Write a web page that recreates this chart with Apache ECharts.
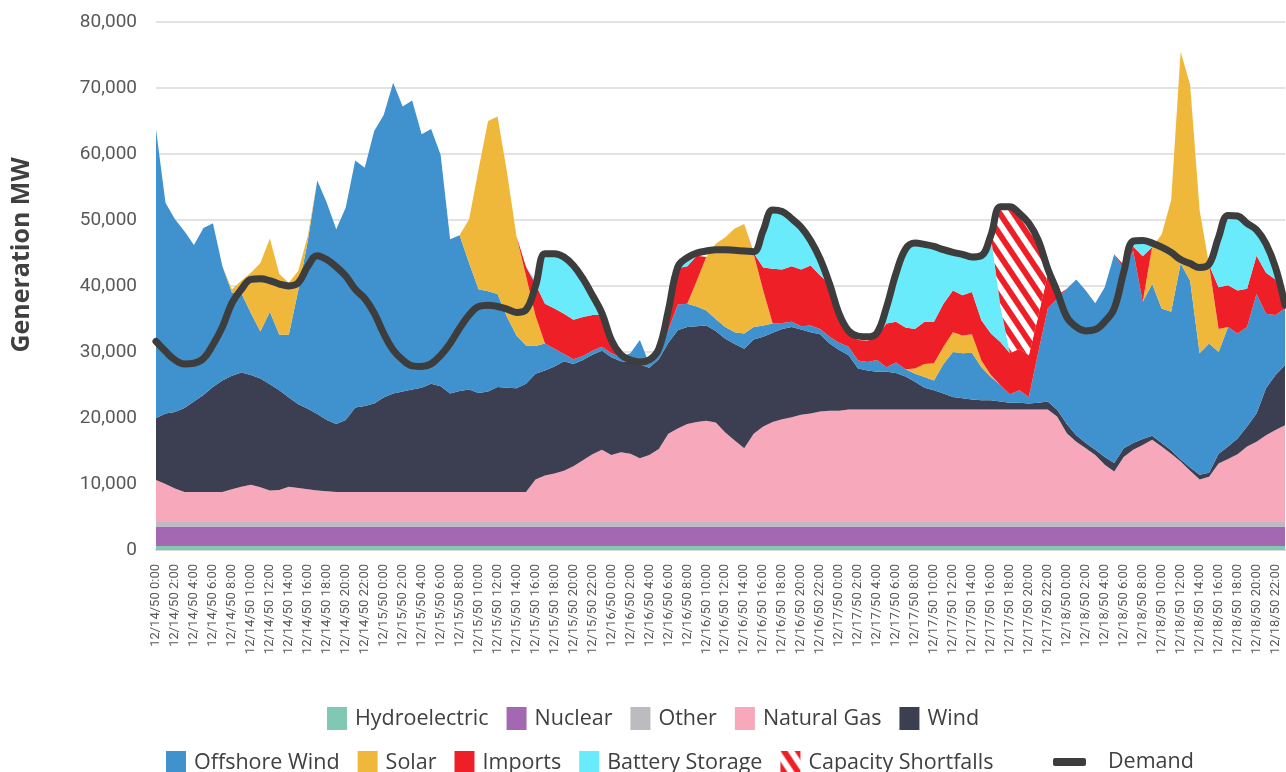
<!DOCTYPE html>
<html>
<head>
<meta charset="utf-8">
<script src="https://cdn.jsdelivr.net/npm/echarts@6/dist/echarts.min.js"></script>
<style>
  html, body { margin: 0; padding: 0; background: #fff; }
  #chart { width: 1286px; height: 772px; }
</style>
</head>
<body>
<div id="chart"></div>
<script>
// ===== data (MW), hourly 12/14/50 0:00 -> 12/18/50 23:00 =====
const days = ['12/14/50', '12/15/50', '12/16/50', '12/17/50', '12/18/50']
const categories = []
days.forEach(d => { for (let h = 0; h < 24; h++) categories.push(`${d} ${h}:00`) })

const hydro = [
  600,600,600,600,600,600,600,600,600,600, 600,600,600,600,600,600,600,600,600,600,
  600,600,600,600,600,600,600,600,600,600, 600,600,600,600,600,600,600,600,600,600,
  600,600,600,600,600,600,600,600,600,600, 600,600,600,600,600,600,600,600,600,600,
  600,600,600,600,600,600,600,600,600,600, 600,600,600,600,600,600,600,600,600,600,
  600,600,600,600,600,600,600,600,600,600, 600,600,600,600,600,600,600,600,600,600,
  600,600,600,600,600,600,600,600,600,600, 600,600,600,600,600,600,600,600,600,600
]
const nuclear = [
  2950,2950,2950,2950,2950,2950,2950,2950,2950,2950, 2950,2950,2950,2950,2950,2950,2950,2950,2950,2950,
  2950,2950,2950,2950,2950,2950,2950,2950,2950,2950, 2950,2950,2950,2950,2950,2950,2950,2950,2950,2950,
  2950,2950,2950,2950,2950,2950,2950,2950,2950,2950, 2950,2950,2950,2950,2950,2950,2950,2950,2950,2950,
  2950,2950,2950,2950,2950,2950,2950,2950,2950,2950, 2950,2950,2950,2950,2950,2950,2950,2950,2950,2950,
  2950,2950,2950,2950,2950,2950,2950,2950,2950,2950, 2950,2950,2950,2950,2950,2950,2950,2950,2950,2950,
  2950,2950,2950,2950,2950,2950,2950,2950,2950,2950, 2950,2950,2950,2950,2950,2950,2950,2950,2950,2950
]
const other = [
  700,700,700,700,700,700,700,700,700,700, 700,700,700,700,700,700,700,700,700,700,
  700,700,700,700,700,700,700,700,700,700, 700,700,700,700,700,700,700,700,700,700,
  700,700,700,700,700,700,700,700,700,700, 700,700,700,700,700,700,700,700,700,700,
  700,700,700,700,700,700,700,700,700,700, 700,700,700,700,700,700,700,700,700,700,
  700,700,700,700,700,700,700,700,700,700, 700,700,700,700,700,700,700,700,700,700,
  700,700,700,700,700,700,700,700,700,700, 700,700,700,700,700,700,700,700,700,700
]
const naturalGas = [
  6350,5750,5050,4550,4550,4550,4550,4550,4950,5350,
  5650,5250,4750,4850,5350,5150,4950,4750,4650,4550,
  4550,4550,4550,4550,4550,4550,4550,4550,4550,4550,
  4550,4550,4550,4550,4550,4550,4550,4550,4550,4550,
  6450,7050,7350,7750,8450,9350,10250,10950,10150,10550,
  10350,9650,10150,11050,13350,14150,14850,15150,15350,15050,
  13550,12350,11150,13350,14450,15150,15550,15850,16250,16450,
  16750,16850,16850,17050,17050,17050,17050,17050,17050,17050,
  17050,17050,17050,17050,17050,17050,17050,17050,17050,17050,
  17050,17050,17050,17050,17050,15950,13450,12150,11150,10150,
  8650,7650,9850,10950,11650,12450,11450,10350,9150,7750,
  6450,6850,8850,9550,10250,11450,12150,13150,13950,14650
]
const wind = [
  9350,10700,11600,12700,13700,14700,15900,16900,17200,17300,
  16600,16500,16100,15100,13500,12700,12200,11600,10800,10300,
  10900,12800,13000,13400,14300,14900,15200,15500,15800,16400,
  16000,14900,15300,15500,15000,15200,15900,15800,15700,16400,
  16000,15900,16200,16600,15500,15200,15100,15000,14800,13800,
  13900,14200,13200,13600,13800,14900,14700,14500,14400,13900,
  14200,14600,15100,14300,13600,13500,13700,13700,12900,12300,
  11700,10200,9200,8200,6200,5900,5700,5700,5500,5000,
  4200,3300,2900,2400,1900,1700,1500,1400,1400,1200,
  1000,1000,900,1000,1200,1000,1400,1000,800,800,
  1200,1300,1300,1000,900,600,500,500,300,500,
  700,600,1500,1900,2400,3000,4300,7100,8300,9100
]
const offshoreWind = [
  43750,31900,29200,26800,23700,25300,24800,17300,12600,12000,
  9400,7100,11000,8400,9500,17300,25400,35400,32900,29500,
  32200,37400,36100,41300,42800,47100,43200,43800,38400,38600,
  35100,23400,23600,19200,15700,15200,14100,10700,8000,5800,
  4200,4100,2700,1100,700,600,600,600,600,600,
  1300,3700,600,1400,1900,3900,3500,3000,2300,1800,
  1800,1800,2300,1900,1700,1400,900,800,500,1000,
  800,1000,1100,1300,1200,1300,1800,700,1600,1100,
  1200,1600,1500,4500,6800,6800,7100,5000,3500,2500,
  1300,1900,1000,7700,14100,16900,20500,23600,23100,22200,
  25700,31600,27200,29100,20800,23000,20400,21000,29700,28300,
  18400,19600,15400,18100,15900,15100,18100,11300,9100,8600
]
const solar = [
  0,0,0,0,0,0,0,0,500,1900,
  6100,10400,11100,9200,7900,2900,800,0,0,0,
  0,0,0,0,0,0,0,0,0,0,
  0,0,0,6600,18200,25800,26900,21900,15000,10500,
  4600,0,0,0,0,0,0,0,0,0,
  0,0,0,0,0,0,0,3900,8100,11400,
  13600,15700,16600,11000,5300,0,0,0,0,0,
  0,0,0,0,0,0,0,0,0,0,
  800,2000,2600,2600,3000,2700,2800,1000,300,0,
  0,0,0,0,0,0,0,0,0,0,
  0,0,0,0,0,5600,11200,16900,32100,29700,
  21700,11900,3500,0,0,0,0,0,0,0
]
const imports = [
  0,0,0,0,0,0,0,0,0,0,
  0,0,0,0,0,0,0,0,0,0,
  0,0,0,0,0,0,0,0,0,0,
  0,0,0,0,0,0,0,0,0,1400,
  4800,6000,6100,6100,6000,5900,5400,4800,2000,0,
  0,0,0,0,2200,5500,5700,3800,0,0,
  0,0,0,200,3500,8300,8100,8400,8600,9100,
  8100,8000,4400,2000,3100,3200,3500,6600,6200,6300,
  6000,6400,6300,6500,6300,6100,6400,6100,6300,6500,
  6200,6300,6300,5500,5200,500,0,0,0,0,
  0,0,600,700,6900,0,0,0,0,0,
  0,0,6300,6300,6500,5800,5800,6200,5400,500
]
const batteryStorage = [
  0,0,0,0,0,0,0,0,0,0,
  0,0,0,0,0,0,0,0,0,0,
  0,0,0,0,0,0,0,0,0,0,
  0,0,0,0,0,0,0,0,0,0,
  500,7500,8300,8600,8200,5800,2900,0,0,0,
  0,0,0,0,0,200,1300,0,0,0,
  0,0,0,0,5600,8900,8800,7200,6400,3800,
  2500,0,0,0,0,0,0,2300,7300,11900,
  13000,11700,11400,8200,5800,6200,5300,9800,14700,5500,
  0,0,0,0,0,0,0,0,0,0,
  0,0,0,600,2400,0,0,0,0,0,
  0,0,7600,10600,11300,9900,3900,4400,1800,0
]
const capacityShortfalls = [
  0,0,0,0,0,0,0,0,0,0,
  0,0,0,0,0,0,0,0,0,0,
  0,0,0,0,0,0,0,0,0,0,
  0,0,0,0,0,0,0,0,0,0,
  0,0,0,0,0,0,0,0,0,0,
  0,0,0,0,0,0,0,0,0,0,
  0,0,0,0,0,0,0,0,0,0,
  0,0,0,0,0,0,0,0,0,0,
  0,0,0,0,0,0,0,0,0,15000,
  22200,20400,20000,10500,0,0,0,0,0,0,
  0,0,0,0,0,0,0,0,0,0,
  0,0,0,0,0,0,0,0,0,0
]
const demand = [
  31600,30100,28800,28200,28300,29000,31100,33800,37400,39500,
  41000,41100,40800,40300,40000,40500,43000,44600,44000,42900,
  41500,39500,38100,35900,32800,30300,28800,27900,27800,28200,
  29500,31300,33600,35600,36900,37100,36900,36500,36000,36400,
  40000,44900,44900,44400,43100,41100,38600,35900,31800,29600,
  28800,28500,28800,30500,36300,42900,44300,45000,45300,45500,
  45500,45400,45300,45200,48400,51500,51300,50200,48900,46900,
  44100,40300,35800,33200,32400,32300,32900,36800,41900,45600,
  46500,46300,46000,45500,45100,44800,44400,44600,47700,52000,
  52000,51000,49500,46900,42600,39100,35300,33800,33200,33400,
  34600,36600,42100,46800,46900,46500,45900,45100,44000,43400,
  42800,43300,47400,50700,50600,49500,48500,46400,42800,37100
]

// red / white diagonal stripes for shortfalls
const makeHatch = () => {
    const w = 14, h = 21
    const c = document.createElement('canvas')
    c.width = w; c.height = h
    const ctx = c.getContext('2d')
    ctx.fillStyle = '#ffffff'
    ctx.fillRect(0, 0, w, h)
    ctx.fillStyle = '#ee1f26'
    for (const s of [-w, 0, w]) {
        ctx.beginPath()
        ctx.moveTo(s, 0); ctx.lineTo(s + 7, 0); ctx.lineTo(s + 7 + w, h); ctx.lineTo(s + w, h)
        ctx.closePath(); ctx.fill()
    }
    return c
}
const hatch = { image: makeHatch(), repeat: 'repeat' }

const FONT = "Roboto, 'Noto Sans', sans-serif"
const LEGEND_FONT = "'Open Sans', Roboto, sans-serif"

const stacked = [
    ['Hydroelectric', hydro, '#80c8b4'],
    ['Nuclear', nuclear, '#a468b3'],
    ['Other', other, '#bcbcc0'],
    ['Natural Gas', naturalGas, '#f7a9bb'],
    ['Wind', wind, '#3c3e52'],
    ['Offshore Wind', offshoreWind, '#3f92cd'],
    ['Solar', solar, '#efb83b'],
    ['Imports', imports, '#ee1f26'],
    ['Battery Storage', batteryStorage, '#6aebfc'],
    ['Capacity Shortfalls', capacityShortfalls, hatch]
].map(([name, data, color]) => ({
    name,
    type: 'line',
    stack: 'gen',
    data,
    symbol: 'none',
    lineStyle: { width: 0 },
    itemStyle: { color },
    areaStyle: { color, opacity: 1 },
    z: 2
}))

const legendBase = {
    icon: 'rect',
    padding: 0,
    itemWidth: 20,
    itemHeight: 23,
    itemGap: 18,
    itemStyle: { borderWidth: 0 },
    textStyle: { fontFamily: LEGEND_FONT, fontSize: 21.5, color: '#404040', padding: [0, 0, 0, 3] }
}

const chart = echarts.init(document.getElementById('chart'), null, { renderer: 'canvas' })
chart.setOption({
    animation: false,
    textStyle: { fontFamily: FONT },
    grid: { left: 156, right: 1, top: 22, bottom: 222 },
    legend: [
        { ...legendBase, left: 327, top: 707, data: ['Hydroelectric', 'Nuclear', 'Other', 'Natural Gas', 'Wind'] },
        { ...legendBase, left: 166, top: 751, data: ['Offshore Wind', 'Solar', 'Imports', 'Battery Storage', 'Capacity Shortfalls'] },
        {
            ...legendBase, icon: 'roundRect', itemWidth: 33, itemHeight: 8, left: 1053, top: 751,
            textStyle: { ...legendBase.textStyle, padding: [0, 0, 0, 17] },
            data: ['Demand']
        }
    ],
    xAxis: {
        type: 'category',
        data: categories,
        boundaryGap: false,
        axisLine: { lineStyle: { color: '#d9d9d9', width: 2 } },
        axisTick: { show: false },
        axisLabel: { interval: 1, rotate: 90, margin: 14, fontSize: 13, color: '#595959', fontFamily: FONT }
    },
    yAxis: {
        type: 'value',
        min: 0,
        max: 80000,
        interval: 10000,
        axisLine: { show: false },
        axisTick: { show: false },
        splitLine: { lineStyle: { color: '#d9d9d9', width: 1.5 } },
        axisLabel: {
            margin: 19,
            fontSize: 19,
            color: '#595959',
            fontFamily: FONT,
            formatter: v => v.toLocaleString('en-US')
        }
    },
    graphic: [{
        type: 'text',
        x: 22,
        y: 255,
        rotation: Math.PI / 2,
        style: {
            text: 'Generation MW',
            fill: '#404040',
            font: `bold 25px ${LEGEND_FONT}`,
            align: 'center',
            verticalAlign: 'middle'
        }
    }],
    series: [
        ...stacked,
        {
            name: 'Demand',
            type: 'line',
            data: demand,
            symbol: 'none',
            smooth: 0.4,
            lineStyle: { color: '#3d3d3d', width: 7, cap: 'round', join: 'round' },
            itemStyle: { color: '#3d3d3d' },
            z: 5
        }
    ]
})
</script>
</body>
</html>
